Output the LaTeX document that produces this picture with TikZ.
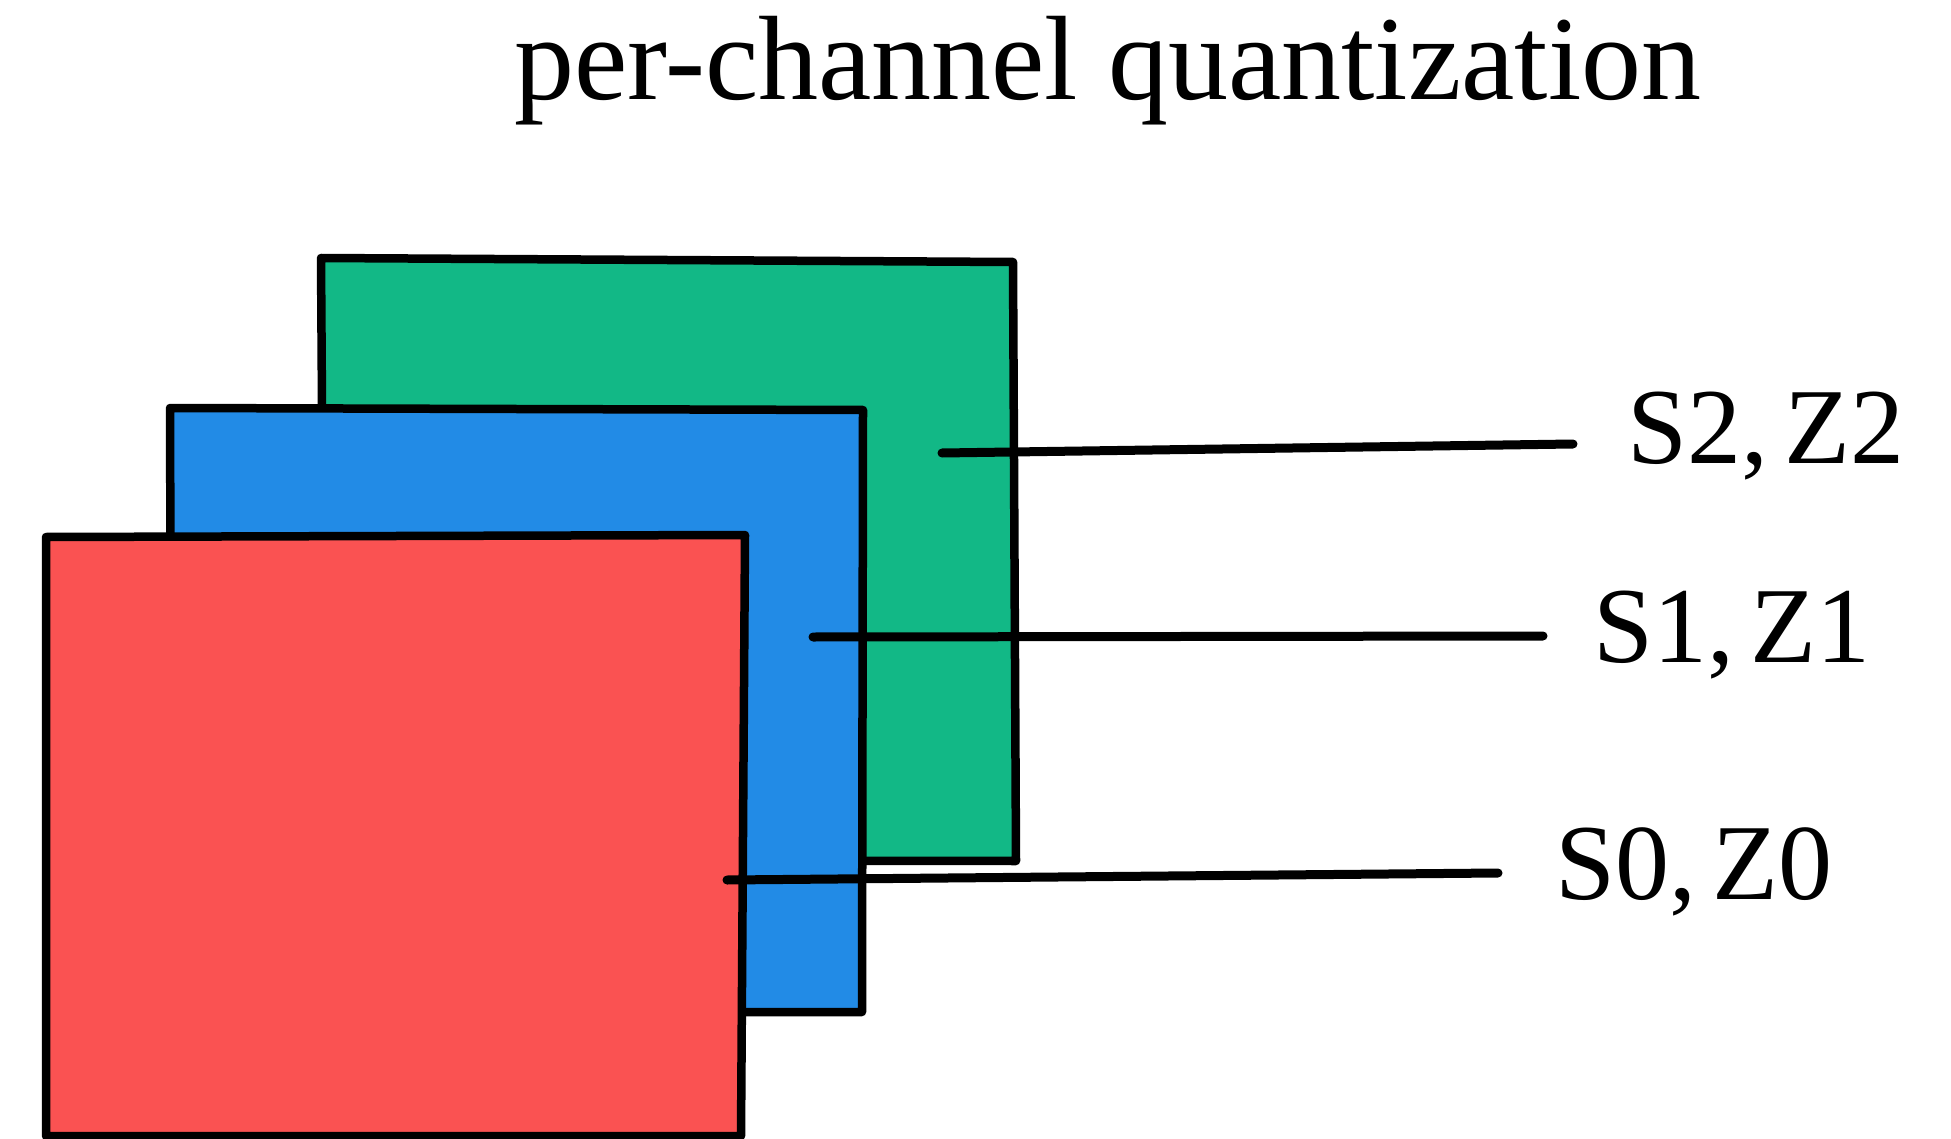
\documentclass[tikz,border=0pt]{standalone}
\usepackage{fontspec}
\setmainfont{Liberation Serif}
\definecolor{sheetgreen}{HTML}{12B886}
\definecolor{sheetblue}{HTML}{228BE6}
\definecolor{sheetred}{HTML}{FA5252}
\tikzset{
  sheet/.style={draw=black, line width=8.5pt, line join=round, line cap=round},
  wire/.style={draw=black, line width=9pt, line cap=round},
  tag/.style={font=\fontsize{108}{108}\selectfont, anchor=base west, inner sep=0pt},
  heading/.style={font=\fontsize{120}{120}\selectfont, anchor=base west, inner sep=0pt}
}
\begin{document}
\begin{tikzpicture}[x=1pt, y=-1pt]
\useasboundingbox (0,0) rectangle (1951,1139);
\fill[white] (0,0) rectangle (1951,1139);

% title
\node[heading] (title) at (514,100) {per-channel quantization};

% channel sheets, back to front
\filldraw[sheet, fill=sheetgreen] (321,258) -- (1013,262) -- (1016,861) -- (325,860) -- cycle;
\filldraw[sheet, fill=sheetblue] (170,408) -- (863,410) -- (862,1012) -- (172,1012) -- cycle;
\filldraw[sheet, fill=sheetred] (46,537) -- (745,535) -- (741,1136) -- (46,1136) -- cycle;

% parameter labels
\node[tag] (p2) at (1627,463) {S2,\hspace{0.15em}Z2};
\node[tag] (p1) at (1593,662) {S1,\hspace{0.15em}Z1};
\node[tag] (p0) at (1555,899) {S0,\hspace{0.15em}Z0};

% leader lines from each sheet to its parameters
\coordinate (a2) at (942,453);
\coordinate (b2) at (1573,444);
\coordinate (a1) at (813,637);
\coordinate (b1) at (1543,636);
\coordinate (a0) at (727,880);
\coordinate (b0) at (1498,873);
\draw[wire] (a2) -- (b2);
\draw[wire] (a1) -- (b1);
\draw[wire] (a0) -- (b0);
\end{tikzpicture}
\end{document}
